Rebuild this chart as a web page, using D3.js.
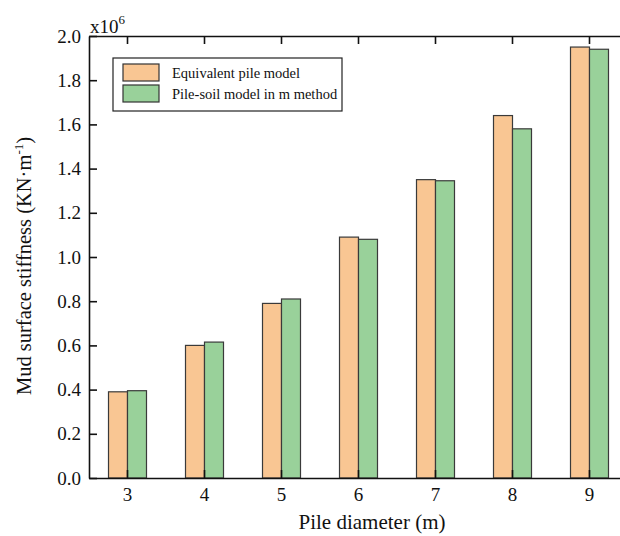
<!DOCTYPE html>
<html><head><meta charset="utf-8">
<script src="https://cdn.jsdelivr.net/npm/d3@7"></script>
<style>body{margin:0;background:#fff}svg{display:block}</style>
</head><body>
<script>
const categories = ["3","4","5","6","7","8","9"];
const seriesNames = ["Equivalent pile model","Pile-soil model in m method"];
const equivalentPile = [0.39,0.60,0.79,1.09,1.35,1.64,1.95];
const pileSoilM = [0.395,0.615,0.81,1.08,1.345,1.58,1.94];
const yTicks = [0.0,0.2,0.4,0.6,0.8,1.0,1.2,1.4,1.6,1.8,2.0];
const colors = ["#F9C693","#99D19A"];

(function(){
const FONT="'Liberation Serif', 'Times New Roman', serif";
const W=620,H=536;
const mL=89,mR=628,mT=36,mB=478;
const svg=d3.select("body").append("svg").attr("width",W).attr("height",H);

const x=d3.scaleBand().domain(categories).range([mL,mR]).padding(0);
const x1=d3.scaleBand().domain(seriesNames).range([x.bandwidth()/2-19,x.bandwidth()/2+19]);
const y=d3.scaleLinear().domain([0,2.0]).range([mB,mT]);

const data=categories.map((c,i)=>({c,vals:[equivalentPile[i],pileSoilM[i]]}));
const g=svg.append("g");
data.forEach(d=>{
  d.vals.forEach((v,j)=>{
    g.append("rect").attr("x",x(d.c)+x1(seriesNames[j])).attr("y",y(v))
     .attr("width",x1.bandwidth()).attr("height",mB-y(v))
     .attr("fill",colors[j]).attr("stroke","#3a3a3a").attr("stroke-width",1.2);
  });
});

const ya=svg.append("g").attr("transform",`translate(${mL},0)`)
  .call(d3.axisLeft(y).tickValues(yTicks).tickFormat(d3.format(".1f")).tickSizeInner(-8).tickSizeOuter(0).tickPadding(8));
const xa=svg.append("g").attr("transform",`translate(0,${mB})`)
  .call(d3.axisBottom(x).tickSizeInner(-8).tickSizeOuter(0).tickPadding(10));
const ta=svg.append("g").attr("transform",`translate(0,${mT})`)
  .call(d3.axisTop(x).tickSizeInner(-8).tickSizeOuter(0).tickFormat(""));
[ya,xa].forEach(a=>a.selectAll("text").style("font-family",FONT).style("font-size","19px").attr("fill","#111"));
[ya,xa,ta].forEach(a=>{a.select(".domain").attr("stroke","#111").attr("stroke-width",1.6);a.selectAll(".tick line").attr("stroke","#111").attr("stroke-width",1.6);});

const mt=svg.append("text").attr("x",mL+1).attr("y",mT-3).style("font-family",FONT).style("font-size","19px").attr("fill","#111");
mt.append("tspan").text("x10");
mt.append("tspan").text("6").attr("dy",-9).style("font-size","13px");

svg.append("text").attr("x",372).attr("y",529).attr("text-anchor","middle").style("font-family",FONT).style("font-size","21px").attr("fill","#111").text("Pile diameter (m)");
const yt=svg.append("text").attr("transform",`translate(31,266) rotate(-90)`).attr("text-anchor","middle").style("font-family",FONT).style("font-size","20.5px").attr("fill","#111");
yt.append("tspan").text("Mud surface stiffness (KN·m");
yt.append("tspan").text("-1").attr("dy",-8).style("font-size","13px");
yt.append("tspan").text(")").attr("dy",8);

const lg=svg.append("g");
lg.append("rect").attr("x",113).attr("y",58).attr("width",229).attr("height",53).attr("fill","#fff").attr("stroke","#222").attr("stroke-width",1.2);
seriesNames.forEach((s,i)=>{
  lg.append("rect").attr("x",123).attr("y",64+i*21).attr("width",36).attr("height",17).attr("fill",colors[i]).attr("stroke","#333").attr("stroke-width",1.2);
  lg.append("text").attr("x",172).attr("y",78+i*21).style("font-family",FONT).style("font-size","14.5px").attr("fill","#111").text(s);
});
})();
</script>
</body></html>
